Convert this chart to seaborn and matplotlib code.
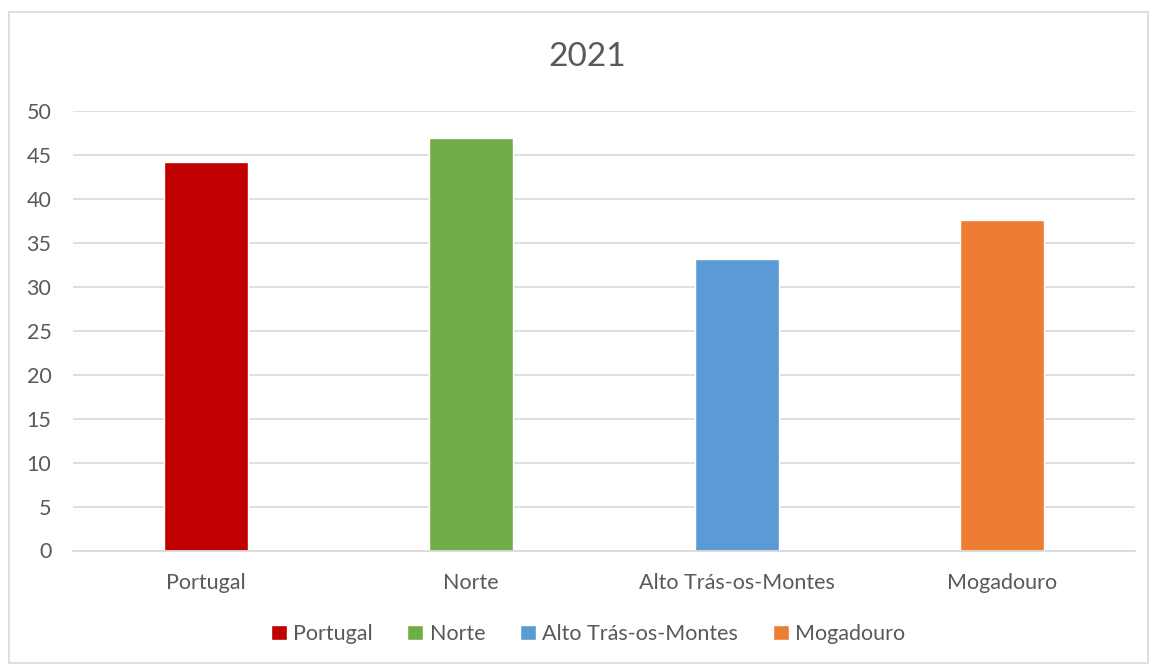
import matplotlib
matplotlib.use("Agg")
import matplotlib.pyplot as plt
import matplotlib.patches as mpatches
import seaborn as sns
import pandas as pd

categories = ["Portugal", "Norte", "Alto Trás-os-Montes", "Mogadouro"]
values = [44.2, 46.9, 33.2, 37.6]
colors = ["#C00000", "#70AD47", "#5B9BD5", "#ED7D31"]
yticks = [0, 5, 10, 15, 20, 25, 30, 35, 40, 45, 50]
title = "2021"

sns.set_theme(style="white")
plt.rcParams["font.family"] = ["Lato", "DejaVu Sans"]

text_color = "#595959"
grid_color = "#D9D9D9"

df = pd.DataFrame({"regiao": categories, "valor": values})

fig = plt.figure(figsize=(11.5, 6.66), dpi=100)
ax = fig.add_axes([73 / 1150, 1 - 550.5 / 666, (1135 - 73) / 1150, (550.5 - 111) / 666])

sns.barplot(data=df, x="regiao", y="valor", hue="regiao", order=categories,
            hue_order=categories, palette=colors, width=0.317, dodge=False,
            saturation=1, legend=False, ax=ax)

ax.set_ylim(0, 50)
ax.set_xlim(-0.5, len(categories) - 0.5)
ax.set_yticks(yticks)
ax.set_yticklabels([str(t) for t in yticks])
ax.yaxis.grid(True, color=grid_color, linewidth=1.2)
ax.set_axisbelow(True)
for side in ["top", "right", "left"]:
    ax.spines[side].set_visible(False)
ax.spines["bottom"].set_color(grid_color)
ax.spines["bottom"].set_linewidth(1.3)
ax.tick_params(axis="both", length=0, colors=text_color, labelsize=15.5)
ax.tick_params(axis="y", pad=15.5)
ax.tick_params(axis="x", pad=16)
ax.set_xlabel("")
ax.set_ylabel("")

fig.text(587 / 1150, 1 - 57 / 666, title, ha="center", va="center",
         fontsize=24, color=text_color)

handles = [mpatches.Patch(facecolor=c, label=l) for c, l in zip(colors, categories)]
fig.legend(handles=handles, loc="center", bbox_to_anchor=(588 / 1150, 1 - 634 / 666),
           ncol=4, frameon=False, fontsize=15.5, labelcolor=text_color,
           handlelength=0.75, handleheight=0.75, handletextpad=0.3, columnspacing=1.6)

# light outer border around the chart area
fig.patches.append(mpatches.Rectangle((9 / 1150, 3 / 666), 1139 / 1150, 651 / 666,
                                      transform=fig.transFigure, fill=False,
                                      edgecolor=grid_color, linewidth=1.2))

fig.savefig("out.png", dpi=100)
